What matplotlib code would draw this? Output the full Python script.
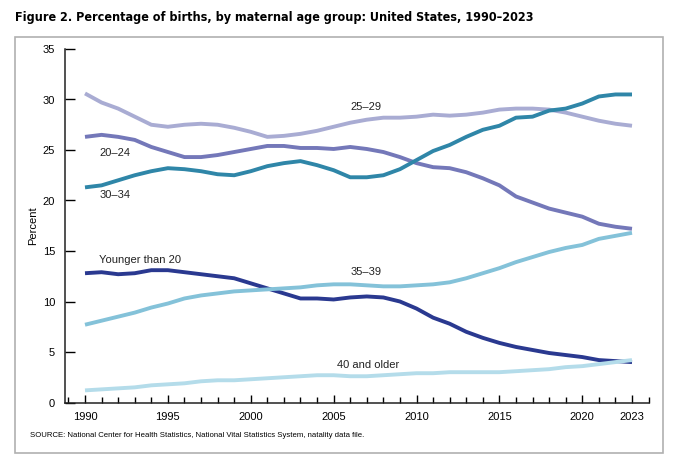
import numpy as np
import matplotlib.pyplot as plt
from matplotlib.patches import Rectangle
from matplotlib.ticker import MultipleLocator

years = list(range(1990, 2024))

# percent of births by maternal age group
under_20 = [12.8, 12.9, 12.7, 12.8, 13.1, 13.1, 12.9, 12.7, 12.5, 12.3,
            11.8, 11.3, 10.8, 10.3, 10.3, 10.2, 10.4, 10.5, 10.4, 10.0,
            9.3, 8.4, 7.8, 7.0, 6.4, 5.9, 5.5, 5.2, 4.9, 4.7,
            4.5, 4.2, 4.1, 4.0]
age_20_24 = [26.3, 26.5, 26.3, 26.0, 25.3, 24.8, 24.3, 24.3, 24.5, 24.8,
             25.1, 25.4, 25.4, 25.2, 25.2, 25.1, 25.3, 25.1, 24.8, 24.3,
             23.7, 23.3, 23.2, 22.8, 22.2, 21.5, 20.4, 19.8, 19.2, 18.8,
             18.4, 17.7, 17.4, 17.2]
age_25_29 = [30.6, 29.7, 29.1, 28.3, 27.5, 27.3, 27.5, 27.6, 27.5, 27.2,
             26.8, 26.3, 26.4, 26.6, 26.9, 27.3, 27.7, 28.0, 28.2, 28.2,
             28.3, 28.5, 28.4, 28.5, 28.7, 29.0, 29.1, 29.1, 29.0, 28.7,
             28.3, 27.9, 27.6, 27.4]
age_30_34 = [21.3, 21.5, 22.0, 22.5, 22.9, 23.2, 23.1, 22.9, 22.6, 22.5,
             22.9, 23.4, 23.7, 23.9, 23.5, 23.0, 22.3, 22.3, 22.5, 23.1,
             24.0, 24.9, 25.5, 26.3, 27.0, 27.4, 28.2, 28.3, 28.9, 29.1,
             29.6, 30.3, 30.5, 30.5]
age_35_39 = [7.7, 8.1, 8.5, 8.9, 9.4, 9.8, 10.3, 10.6, 10.8, 11.0,
             11.1, 11.2, 11.3, 11.4, 11.6, 11.7, 11.7, 11.6, 11.5, 11.5,
             11.6, 11.7, 11.9, 12.3, 12.8, 13.3, 13.9, 14.4, 14.9, 15.3,
             15.6, 16.2, 16.5, 16.8]
age_40_plus = [1.2, 1.3, 1.4, 1.5, 1.7, 1.8, 1.9, 2.1, 2.2, 2.2,
               2.3, 2.4, 2.5, 2.6, 2.7, 2.7, 2.6, 2.6, 2.7, 2.8,
               2.9, 2.9, 3.0, 3.0, 3.0, 3.0, 3.1, 3.2, 3.3, 3.5,
               3.6, 3.8, 4.0, 4.2]

series = [
    ("25–29", age_25_29, "#a9acd3", (2006.0, 29.3)),
    ("20–24", age_20_24, "#7478b9", (1990.85, 24.7)),
    ("30–34", age_30_34, "#2f86a8", (1990.85, 20.5)),
    ("Younger than 20", under_20, "#2a3990", (1990.85, 14.1)),
    ("35–39", age_35_39, "#84c2d9", (2006.0, 12.9)),
    ("40 and older", age_40_plus, "#b4dcea", (2005.2, 3.7)),
]

plt.rcParams['font.family'] = ['Liberation Sans', 'DejaVu Sans']

fig = plt.figure(figsize=(6.8, 4.61), dpi=100)
ax = fig.add_axes([65 / 680, 1 - 402.5 / 461, (649 - 65) / 680, (402.5 - 49) / 461])

for name, vals, color, (lx, ly) in series:
    ax.plot(years, vals, color=color, lw=2.8, solid_capstyle='butt', zorder=3)
    ax.text(lx, ly, name, fontsize=8, color="#222222", va='center', ha='left')

x_px = (649 - 65) / ((632 - 85) / 33)
x0 = 1990 - (85 - 65) / ((632 - 85) / 33)
ax.set_xlim(x0, x0 + x_px)
ax.set_ylim(0, 35)

ax.set_xticks([1990, 1995, 2000, 2005, 2010, 2015, 2020, 2023])
ax.xaxis.set_minor_locator(MultipleLocator(1))
ax.yaxis.set_major_locator(MultipleLocator(5))
ax.tick_params(axis='x', which='major', direction='in', length=6, width=1,
               labelsize=8, pad=7)
ax.tick_params(axis='x', which='minor', direction='in', length=4, width=1)
ax.tick_params(axis='y', direction='in', length=7, width=1, labelsize=8, pad=7.2)

for side in ['top', 'right']:
    ax.spines[side].set_visible(False)
for side in ['left', 'bottom']:
    ax.spines[side].set_linewidth(1.1)
    ax.spines[side].set_color("#222222")

ax.set_ylabel("Percent", fontsize=8, labelpad=3)

# gray frame round the chart
fig.patches.append(Rectangle((15 / 680, 1 - 453 / 461), (663 - 15) / 680, (453 - 37) / 461,
                             transform=fig.transFigure, fill=False,
                             edgecolor="#b0b0b0", lw=1.2))

fig.text(15 / 680, 1 - 18 / 461,
         "Figure 2. Percentage of births, by maternal age group: United States, 1990–2023",
         fontsize=9, fontweight='bold', fontstretch='condensed', va='center', ha='left',
         family='DejaVu Sans')
fig.text(30 / 680, 1 - 435 / 461,
         "SOURCE: National Center for Health Statistics, National Vital Statistics System, natality data file.",
         fontsize=5.6, va='center', ha='left')

fig.savefig("out.png", dpi=100)
